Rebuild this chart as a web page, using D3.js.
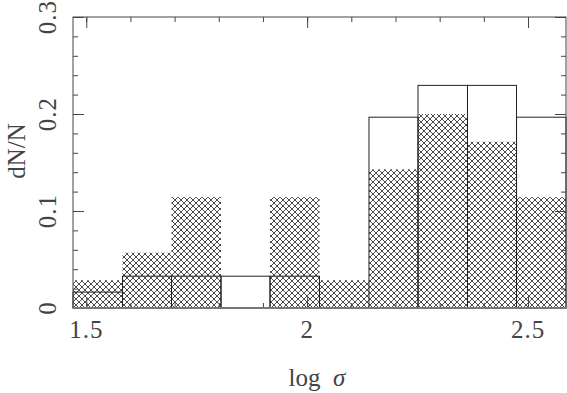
<!DOCTYPE html>
<html>
<head>
<meta charset="utf-8">
<script src="https://cdn.jsdelivr.net/npm/d3@7"></script>
<style>
body { margin: 0; background: #fff; }
svg { display: block; }
text { font-family: "Liberation Serif", "DejaVu Serif", serif; fill: #444; }
</style>
</head>
<body>
<svg id="hist" width="567" height="393"></svg>
<script>
// bin edges in log sigma (10 equal bins)
var binEdges = [1.470, 1.582, 1.693, 1.805, 1.916, 2.028, 2.140, 2.251, 2.363, 2.474, 2.586];
// open histogram (outline only)
var openVals = [0.0164, 0.0328, 0.0328, 0.0328, 0.0328, 0, 0.1967, 0.2295, 0.2295, 0.1967];
// hatched histogram
var hatchVals = [0.0286, 0.0571, 0.1143, 0, 0.1143, 0.0286, 0.1429, 0.2, 0.1714, 0.1143];

var xMajor = [1.5, 2, 2.5];
var xLabels = ["1.5", "2", "2.5"];
var yMajor = [0, 0.1, 0.2, 0.3];
var yLabels = ["0", "0.1", "0.2", "0.3"];

var svg = d3.select("#hist"),
    pL = 73, pR = 566, pT = 17, pB = 308;

var x = d3.scaleLinear().domain([1.47, 2.586]).range([pL, pR]);
var y = d3.scaleLinear().domain([0, 0.3]).range([pB, pT]);

var xMinor = d3.range(15, 26).map(function (d) { return d / 10; });
var yMinor = d3.range(0, 16).map(function (d) { return d * 0.02; });

// crosshatch pattern
var pat = svg.append("defs").append("pattern")
    .attr("id", "xhatch")
    .attr("patternUnits", "userSpaceOnUse")
    .attr("width", 6).attr("height", 6)
    .attr("x", pL).attr("y", pB);
pat.append("path")
    .attr("d", "M0,0L6,6M6,0L0,6")
    .attr("stroke", "#2a2a2a").attr("stroke-width", 0.85).attr("fill", "none");

var bins = hatchVals.map(function (v, i) {
    return {x0: binEdges[i], x1: binEdges[i + 1], h: v, o: openVals[i]};
});

svg.append("g").selectAll("rect").data(bins).enter().append("rect")
    .attr("x", function (d) { return x(d.x0); })
    .attr("width", function (d) { return x(d.x1) - x(d.x0); })
    .attr("y", function (d) { return y(d.h); })
    .attr("height", function (d) { return y(0) - y(d.h); })
    .attr("fill", "url(#xhatch)");

svg.append("g").selectAll("rect").data(bins.filter(function (d) { return d.o > 0; })).enter().append("rect")
    .attr("x", function (d) { return x(d.x0); })
    .attr("width", function (d) { return x(d.x1) - x(d.x0); })
    .attr("y", function (d) { return y(d.o); })
    .attr("height", function (d) { return y(0) - y(d.o); })
    .attr("fill", "none")
    .attr("stroke", "#222")
    .attr("stroke-width", 1);

// ticks on all four sides, pointing inward
function ticks(axis, vals, size, tr) {
    var g = svg.append("g").attr("transform", tr)
        .call(axis.tickValues(vals).tickSize(size).tickFormat(""));
    g.select(".domain").remove();
    g.selectAll("line").attr("stroke", "#444");
}
ticks(d3.axisBottom(x), xMinor, -5, "translate(0," + pB + ")");
ticks(d3.axisBottom(x), xMajor, -11, "translate(0," + pB + ")");
ticks(d3.axisTop(x), xMinor, -5, "translate(0," + pT + ")");
ticks(d3.axisTop(x), xMajor, -11, "translate(0," + pT + ")");
ticks(d3.axisLeft(y), yMinor, -5, "translate(" + pL + ",0)");
ticks(d3.axisLeft(y), yMajor, -11, "translate(" + pL + ",0)");
ticks(d3.axisRight(y), yMinor, -5, "translate(" + pR + ",0)");
ticks(d3.axisRight(y), yMajor, -11, "translate(" + pR + ",0)");

// frame
svg.append("rect")
    .attr("x", pL).attr("y", pT)
    .attr("width", pR - pL).attr("height", pB - pT)
    .attr("fill", "none").attr("stroke", "#444").attr("stroke-width", 1);
svg.append("line")
    .attr("x1", pL).attr("x2", pR).attr("y1", pB).attr("y2", pB)
    .attr("stroke", "#777").attr("stroke-width", 2);

// tick labels
svg.append("g").selectAll("text").data(xMajor).enter().append("text")
    .attr("x", function (d) { return x(d); })
    .attr("y", 338)
    .attr("text-anchor", "middle")
    .attr("font-size", 25)
    .attr("letter-spacing", 1)
    .text(function (d, i) { return xLabels[i]; });

svg.append("g").selectAll("text").data(yMajor).enter().append("text")
    .attr("transform", function (d) { return "translate(56," + y(d) + ") rotate(-90)"; })
    .attr("text-anchor", "middle")
    .attr("font-size", 25)
    .attr("letter-spacing", 1)
    .text(function (d, i) { return yLabels[i]; });

// axis titles
var xt = svg.append("text")
    .attr("x", 317).attr("y", 386)
    .attr("text-anchor", "middle")
    .attr("font-size", 25);
xt.append("tspan").text("log\u2002");
xt.append("tspan").attr("font-style", "italic").text("\u03c3");

svg.append("text")
    .attr("transform", "translate(25,151) rotate(-90)")
    .attr("text-anchor", "middle")
    .attr("font-size", 25)
    .text("dN/N");
</script>
</body>
</html>
